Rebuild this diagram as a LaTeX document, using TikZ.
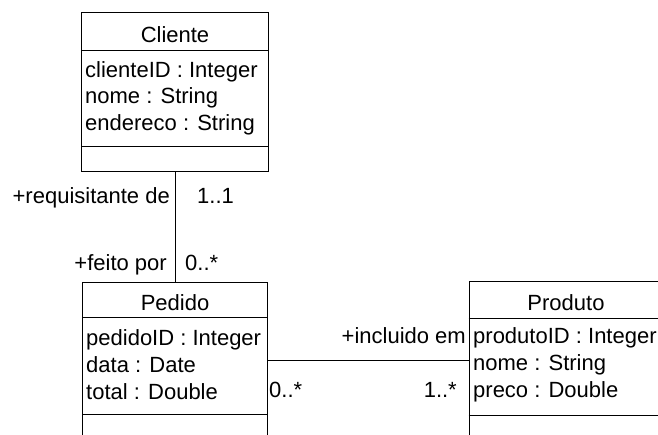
\documentclass[tikz,border=0pt]{standalone}
\usepackage{fontspec}
\setmainfont{Liberation Sans}
\begin{document}
\begin{tikzpicture}[x=1pt,y=-1pt,
  classbox/.style={draw=black, line width=1pt, rectangle, inner sep=0pt},
  sep/.style={draw=black, line width=1pt},
  assoc/.style={draw=black, line width=1pt},
  txt/.style={inner sep=0pt, font=\fontsize{22}{26}\selectfont},
  lbl/.style={txt, anchor=base east},
  attr/.style={txt, anchor=base west},
  ttl/.style={txt, anchor=base}]
\useasboundingbox (0,0) rectangle (658,434);
\clip (0,0) rectangle (658,434);
% Cliente
\node[classbox, minimum width=187pt, minimum height=159pt] (cliente) at (175,91.5) {};
\draw[sep] (cliente.west |- 0,50) -- (cliente.east |- 0,50);
\draw[sep] (cliente.west |- 0,146) -- (cliente.east |- 0,146);
\node[ttl] (ctitle) at (175,42) {Cliente};
\node[attr] (ca1) at (85,77) {clienteID : Integer};
\node[attr] (ca2) at (85,103) {nome : String};
\node[attr] (ca3) at (85,130) {endereco : String};
% Pedido
\node[classbox, minimum width=185pt, minimum height=157pt] (pedido) at (175,360.5) {};
\draw[sep] (pedido.west |- 0,317) -- (pedido.east |- 0,317);
\draw[sep] (pedido.west |- 0,414) -- (pedido.east |- 0,414);
\node[ttl] (ptitle) at (175,310) {Pedido};
\node[attr] (pa1) at (86,345) {pedidoID : Integer};
\node[attr] (pa2) at (86,372) {data : Date};
\node[attr] (pa3) at (86,399) {total : Double};
% Produto
\node[classbox, minimum width=193pt, minimum height=159pt] (produto) at (565.5,360.5) {};
\draw[sep] (produto.west |- 0,318) -- (produto.east |- 0,318);
\draw[sep] (produto.west |- 0,415) -- (produto.east |- 0,415);
\node[ttl] (prtitle) at (566,310) {Produto};
\node[attr] (pra1) at (473,343) {produtoID : Integer};
\node[attr] (pra2) at (473,370) {nome : String};
\node[attr] (pra3) at (473,397) {preco : Double};
% associations
\draw[assoc] (cliente.south) -- (pedido.north);
\draw[assoc] (pedido.east) -- (produto.west);
\node[lbl] (l1) at (170,203) {+requisitante de};
\node[attr] (m1) at (197,203) {1..1};
\node[lbl] (l2) at (167,270) {+feito por};
\node[attr] (m2) at (185,270) {0..*};
\node[lbl] (l3) at (466,343) {+incluido em};
\node[attr] (m3) at (269,397) {0..*};
\node[lbl] (m4) at (457,397) {1..*};
\end{tikzpicture}
\end{document}
